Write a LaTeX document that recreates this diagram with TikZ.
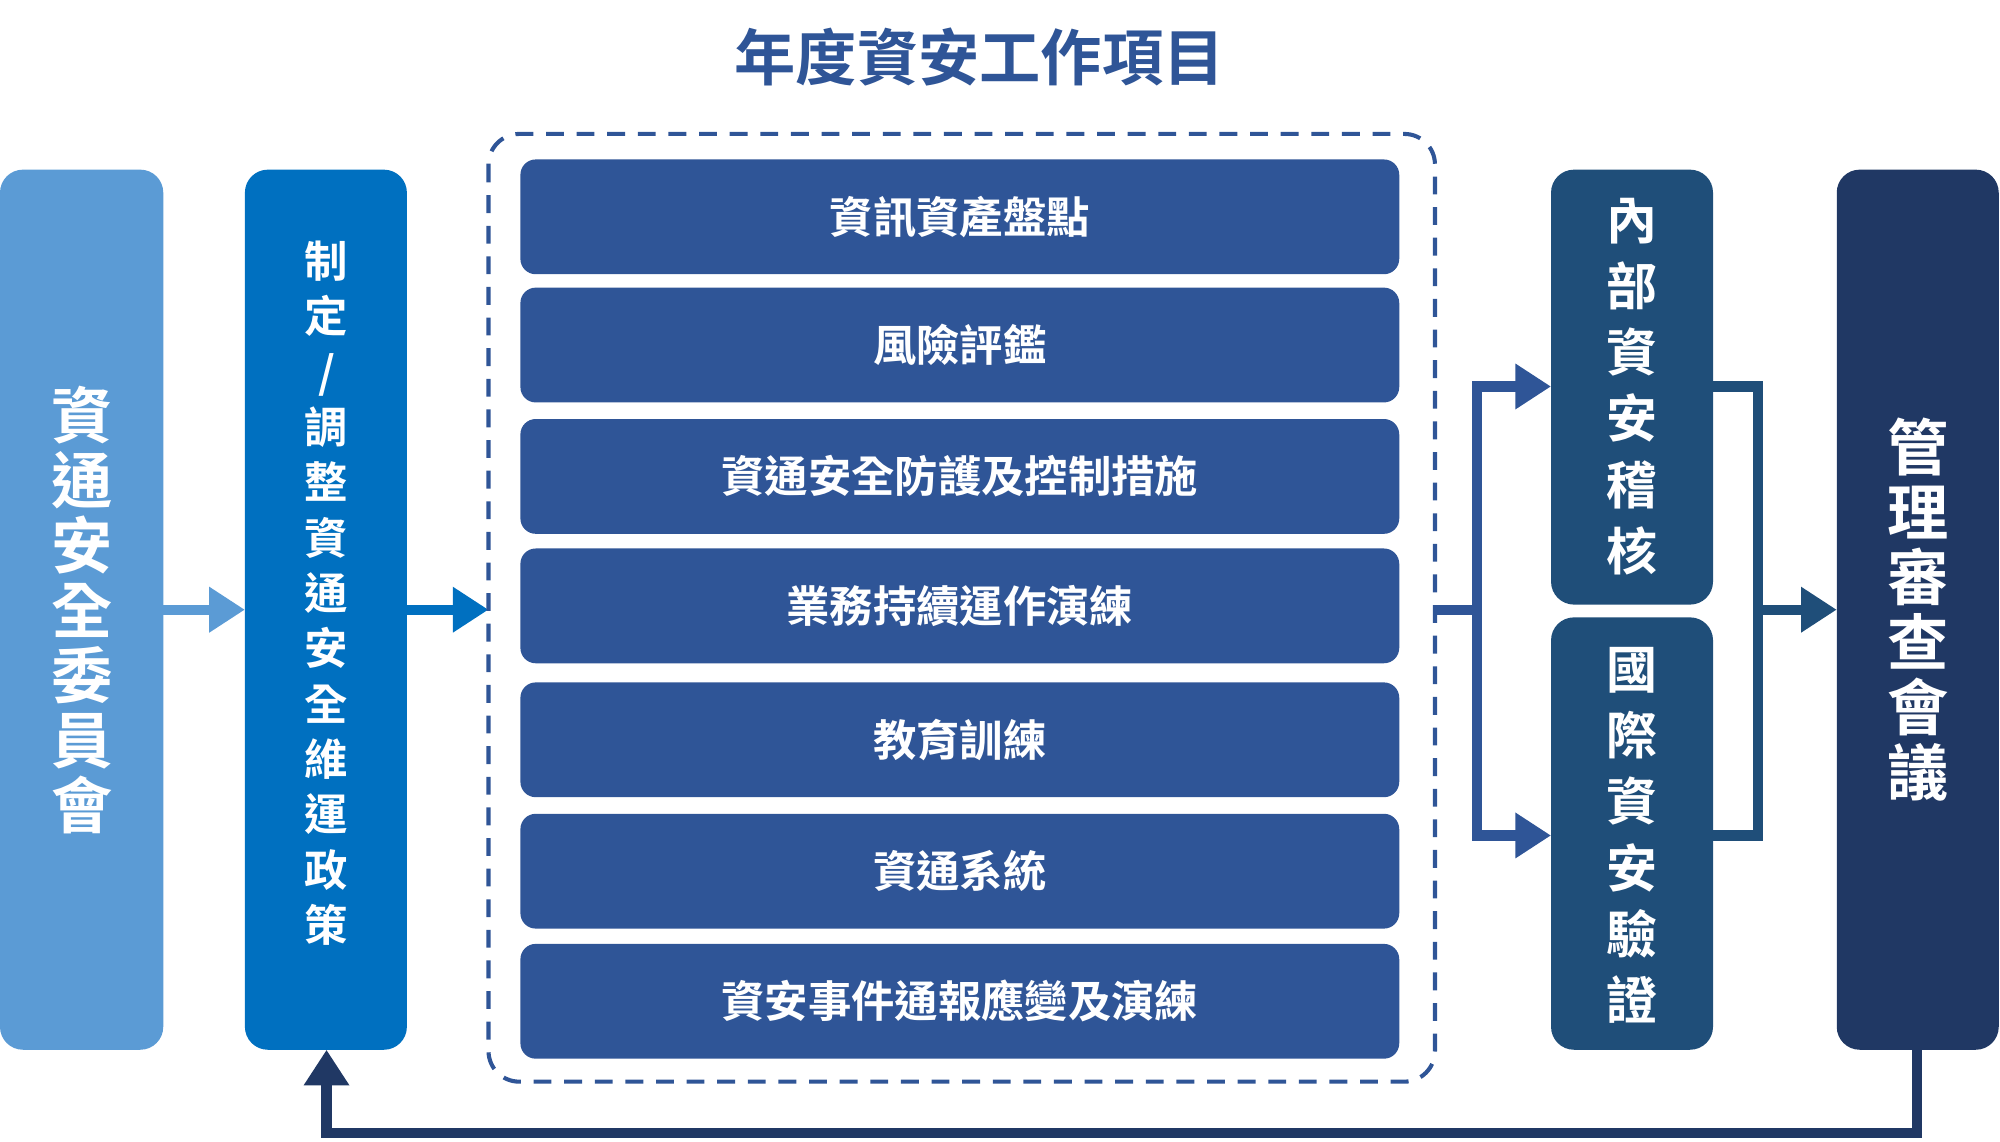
\documentclass[tikz,border=0pt]{standalone}
\usepackage{fontspec}
\setmainfont{Noto Sans CJK TC}[BoldFont={* Bold}]
\usetikzlibrary{arrows.meta}
\definecolor{lblue}{HTML}{5B9BD5}
\definecolor{mblue}{HTML}{0070C0}
\definecolor{dblue}{HTML}{2F5597}
\definecolor{nblue}{HTML}{1F4E79}
\definecolor{navy}{HTML}{203864}
\begin{document}
\begin{tikzpicture}[x=0.5pt,y=-0.5pt,
  col/.style={rounded corners=9pt,inner sep=0},
  item/.style={fill=dblue,rounded corners=6pt,minimum width=344.5pt,minimum height=45pt,inner sep=0,text=white,font=\fontsize{17}{20}\selectfont\bfseries},
  vt/.style={text=white,align=center,inner sep=0},
  arr/.style={line width=4pt,-{Triangle[length=14pt,width=17pt]}},
  ln/.style={line width=4pt}]
\useasboundingbox (0,0) rectangle (1568,895);
\node[text=dblue,font=\fontsize{24}{28}\selectfont\bfseries] (title) at (768,45) {年度資安工作項目};
% left columns
\fill[lblue,rounded corners=9pt] (0,133) rectangle (128,823);
\node[vt,font=\fontsize{24}{25.5}\selectfont\bfseries] (b1) at (64,478) {資\\通\\安\\全\\委\\員\\會};
\path (0,133) rectangle (128,823) node[pos=.5,coordinate] (b1c) {};
\fill[mblue,rounded corners=9pt] (192,133) rectangle (319,823);
\node[vt,font=\fontsize{17}{21.7}\selectfont\bfseries] (b2) at (256,465) {制\\定\\/\\調\\整\\資\\通\\安\\全\\維\\運\\政\\策};
\coordinate (b1r) at (128,478); \coordinate (b2l) at (192,478);
\coordinate (b2r) at (319,478); \coordinate (dl) at (383,478);
\coordinate (b2b) at (256,823);
\draw[arr,lblue] (b1r) -- (b2l);
\draw[arr,mblue] (b2r) -- (dl);
% dashed frame
\draw[dblue,line width=1.6pt,dash pattern=on 7pt off 5pt,rounded corners=12pt] (383,105) rectangle (1125,848);
\foreach \n/\y/\t in {i1/170/資訊資產盤點,i2/270.5/風險評鑑,i3/373.5/資通安全防護及控制措施,i4/475/業務持續運作演練,i5/580/教育訓練,i6/683/資通系統/服務委外之管理,i7/785/資安事件通報應變及演練}
  \node[item] (\n) at (752.5,\y) {\t};
% right
\fill[nblue,rounded corners=9pt] (1216,133) rectangle (1343,474);
\node[vt,font=\fontsize{20}{26}\selectfont\bfseries] (r1) at (1279.5,303) {內\\部\\資\\安\\稽\\核};
\fill[nblue,rounded corners=9pt] (1216,484) rectangle (1343,823);
\node[vt,font=\fontsize{20}{26}\selectfont\bfseries] (r2) at (1279.5,655) {國\\際\\資\\安\\驗\\證};
\fill[navy,rounded corners=9pt] (1440,133) rectangle (1567,823);
\node[vt,font=\fontsize{24}{25.5}\selectfont\bfseries] (r3) at (1503.5,478) {管\\理\\審\\查\\會\\議};
\coordinate (dr) at (1125,478); \coordinate (s) at (1158,478);
\coordinate (r1l) at (1216,303); \coordinate (r2l) at (1216,655);
\coordinate (r1r) at (1343,303); \coordinate (r2r) at (1343,655);
\coordinate (r3l) at (1440,478); \coordinate (r3b) at (1503,823);
\draw[ln,dblue] (dr) -- (s);
\draw[arr,dblue] (1158,478) |- (r1l);
\draw[arr,dblue] (1158,478) |- (r2l);
\draw[ln,nblue,line join=miter] (r1r) -| (1378,655) -- (r2r);
\draw[arr,nblue] (1378,478) -- (r3l);
\draw[arr,navy] (r3b) -- (1503,888) -| (b2b);
\end{tikzpicture}
\end{document}
